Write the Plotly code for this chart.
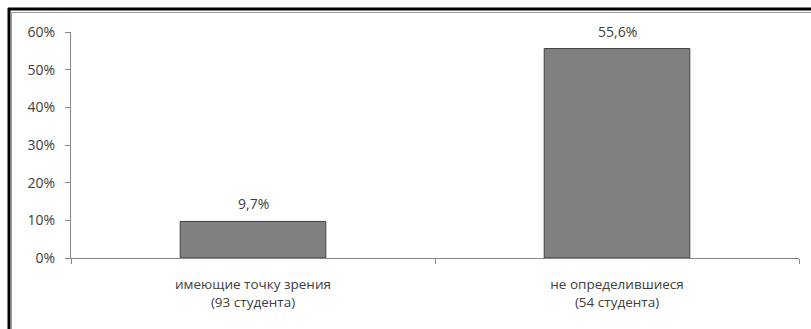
import plotly.graph_objects as go

# data
categories = ["имеющие точку зрения<br>(93 студента)", "не определившиеся<br>(54 студента)"]
values = [9.7, 55.6]
labels = ["9,7%", "55,6%"]
y_ticks = [0, 10, 20, 30, 40, 50, 60]
y_tick_text = ["0%", "10%", "20%", "30%", "40%", "50%", "60%"]

W, H = 811, 329
L, R, T, B = 71, 12, 32, 71

txt = "#404040"
axis_col = "#868686"

fig = go.Figure(go.Bar(
    x=categories, y=values,
    width=0.4,
    marker=dict(color="#808080", line=dict(color="#404040", width=1)),
    hoverinfo="skip",
))

for c, v, t in zip(categories, values, labels):
    fig.add_annotation(x=c, y=v, text=t, showarrow=False,
                       yanchor="bottom", yshift=6,
                       font=dict(size=14, color=txt))

# frame around the chart (pixel -> paper coords)
pw, ph = W - L - R, H - T - B
def px(x):
    return (x - L) / pw
def py(y):
    return (H - B - y) / ph

fig.add_shape(type="line", xref="paper", yref="paper",
              x0=px(9), x1=px(9), y0=py(8), y1=py(H + 5),
              line=dict(color="black", width=3))
fig.add_shape(type="line", xref="paper", yref="paper",
              x0=px(8), x1=px(W + 5), y0=py(9), y1=py(9),
              line=dict(color="black", width=3))
fig.add_shape(type="line", xref="paper", yref="paper",
              x0=px(11.5), x1=px(11.5), y0=py(12.5), y1=py(H + 5),
              line=dict(color="#9a9a9a", width=1))
fig.add_shape(type="line", xref="paper", yref="paper",
              x0=px(11.5), x1=px(W + 5), y0=py(12.5), y1=py(12.5),
              line=dict(color="#9a9a9a", width=1))

fig.update_layout(
    width=W, height=H,
    margin=dict(l=L, r=R, t=T, b=B, pad=0),
    paper_bgcolor="white", plot_bgcolor="white",
    font=dict(family="Open Sans", size=14, color=txt),
    showlegend=False,
    bargap=0.6,
)
fig.update_xaxes(
    range=[-0.5, 1.5], showline=True, linecolor=axis_col, linewidth=1,
    ticks="outside", ticklen=5, tickcolor=axis_col, tickson="boundaries",
    showgrid=False, tickfont=dict(size=13.5, color=txt),
    ticklabelstandoff=14,
)
fig.update_yaxes(
    range=[0, 60], tickvals=y_ticks, ticktext=y_tick_text,
    showline=True, linecolor=axis_col, linewidth=1,
    ticks="outside", ticklen=5, tickcolor=axis_col,
    showgrid=False, zeroline=False, ticklabelstandoff=7,
    tickfont=dict(size=14, color=txt),
)

# the page has a default body margin; drop it so the chart sits at (0, 0)
fig.write_html("out.html", config={"displayModeBar": False},
               post_script="document.body.style.margin='0px';")
